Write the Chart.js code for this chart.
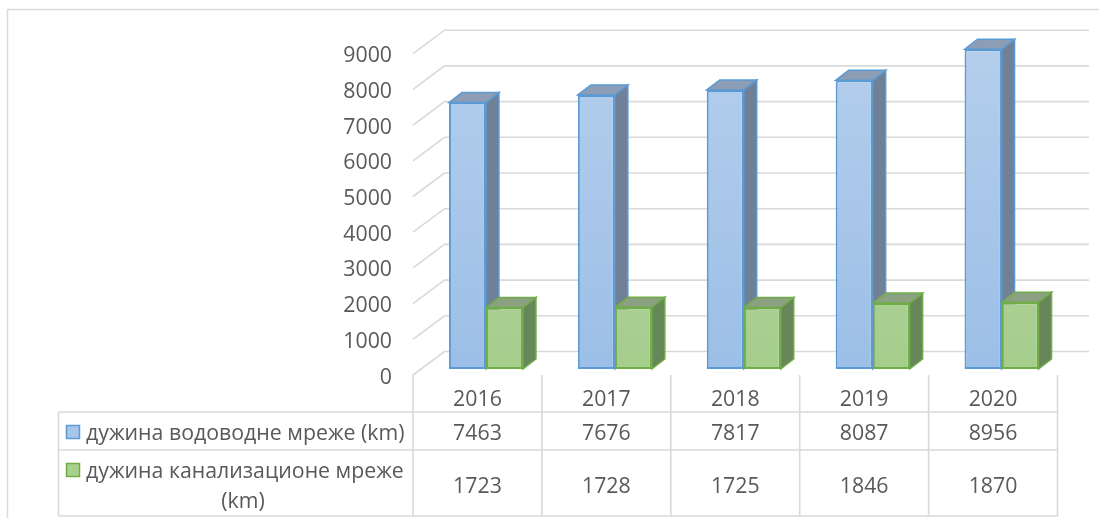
<!DOCTYPE html>
<html>
<head>
<meta charset="utf-8">
<script src="https://cdn.jsdelivr.net/npm/chart.js@4.4.1/dist/chart.umd.min.js"></script>
<style>
  html, body { margin: 0; padding: 0; background: #fff; }
  #wrap { width: 1099px; height: 518px; }
</style>
</head>
<body>
<div id="wrap"><canvas id="chart" width="1099" height="518"></canvas></div>
<script>
// --- datos del gráfico ---
const years = ['2016', '2017', '2018', '2019', '2020'];
const waterNet = [7463, 7676, 7817, 8087, 8956];
const sewerNet = [1723, 1728, 1725, 1846, 1870];
const seriesNames = ['дужина водоводне мреже (km)', 'дужина канализационе мреже (km)'];
const yTicks = [0, 1000, 2000, 3000, 4000, 5000, 6000, 7000, 8000, 9000];

const FONT = '21.3px "Open Sans", sans-serif';
const TEXT = '#595959';
const GRID = '#D9D9D9';
const TXT_DY = 2.5; // Open Sans queda un poco alta con baseline 'middle'

// colores de cada serie (frente, lado, tapa, borde)
const looks = [
    { top: '#B4CEEC', bottom: '#9CBFE7', side: '#6F8097', cap: '#8C9DB5', line: '#5B9BD5', key: '#A8C5E9' },
    { top: '#BADAA9', bottom: '#A5CD8C', side: '#67865A', cap: '#8BA181', line: '#70AD47', key: '#A9D18E' }
];

// profundidad del "3D"
const SHIFT = 8.5;           // frente de las barras respecto al borde del suelo
const DEPTH_X = 31.5, DEPTH_Y = -23.5;  // pared del fondo
const BAR_DX = 13, BAR_DY = -10;        // grosor de la barra

function poly(ctx, pts, fill, stroke) {
    ctx.beginPath();
    ctx.moveTo(pts[0][0], pts[0][1]);
    for (let i = 1; i < pts.length; i++) ctx.lineTo(pts[i][0], pts[i][1]);
    ctx.closePath();
    ctx.fillStyle = fill;
    ctx.fill();
    ctx.lineWidth = 1.5;
    ctx.strokeStyle = stroke;
    ctx.stroke();
}

const threeD = {
    id: 'threeD',
    beforeDatasetsDraw(chart) {
        const ctx = chart.ctx;
        const x = chart.scales.x, y = chart.scales.y;
        const frontX = x.left - SHIFT;
        ctx.save();

        // marco exterior
        ctx.strokeStyle = GRID;
        ctx.lineWidth = 1.5;
        ctx.beginPath();
        ctx.moveTo(7.5, 518);
        ctx.lineTo(7.5, 9.5);
        ctx.lineTo(1099, 9.5);
        ctx.stroke();

        // paredes: lateral (diagonal) y fondo (horizontal)
        ctx.lineWidth = 1.6;
        yTicks.forEach(v => {
            const yf = y.getPixelForValue(v) + 6;
            ctx.beginPath();
            ctx.moveTo(frontX, yf);
            ctx.lineTo(frontX + DEPTH_X, yf + DEPTH_Y);
            ctx.lineTo(x.right + 23, yf + DEPTH_Y);
            ctx.stroke();
        });

        // lados y tapas de las barras
        years.forEach((_, i) => {
            chart.data.datasets.forEach((ds, d) => {
                const bar = chart.getDatasetMeta(d).data[i];
                const p = bar.getProps(['x', 'y', 'base', 'width'], true);
                const l = p.x - p.width / 2, r = p.x + p.width / 2;
                const lk = looks[d];
                poly(ctx, [[r, p.y], [r + BAR_DX, p.y + BAR_DY], [r + BAR_DX, p.base + BAR_DY], [r, p.base]], lk.side, lk.line);
                poly(ctx, [[l, p.y], [l + BAR_DX, p.y + BAR_DY], [r + BAR_DX, p.y + BAR_DY], [r, p.y]], lk.cap, lk.line);
            });
        });
        ctx.restore();
    },
    afterDraw(chart) {
        const ctx = chart.ctx;
        const x = chart.scales.x, y = chart.scales.y;
        const frontX = x.left - SHIFT;
        const colW = (x.right - x.left) / years.length;
        ctx.save();
        ctx.font = FONT;
        ctx.fillStyle = TEXT;

        // etiquetas del eje Y
        ctx.textAlign = 'right';
        ctx.textBaseline = 'middle';
        yTicks.forEach(v => ctx.fillText(String(v), 392, y.getPixelForValue(v) + 6 + TXT_DY));

        // tabla de datos
        const rowTop = 412, rowMid = 450, rowBot = 516, hdrTop = 375, keyLeft = 58.5;
        ctx.strokeStyle = GRID;
        ctx.lineWidth = 1.6;
        ctx.beginPath();
        [rowTop, rowMid, rowBot].forEach(ry => {
            ctx.moveTo(keyLeft, ry);
            ctx.lineTo(frontX + colW * years.length, ry);
        });
        ctx.moveTo(keyLeft, rowTop);
        ctx.lineTo(keyLeft, rowBot);
        for (let i = 0; i <= years.length; i++) {
            const cx = frontX + colW * i;
            ctx.moveTo(cx, hdrTop);
            ctx.lineTo(cx, rowBot);
        }
        ctx.stroke();

        ctx.textAlign = 'center';
        years.forEach((yr, i) => {
            const cx = x.getPixelForValue(i) - SHIFT;
            ctx.fillText(yr, cx, 397 + TXT_DY);
            ctx.fillText(String(waterNet[i]), cx, 431 + TXT_DY);
            ctx.fillText(String(sewerNet[i]), cx, 484 + TXT_DY);
        });

        // leyenda dentro de la tabla
        const keys = [425, 463];
        keys.forEach((sy, d) => {
            ctx.fillStyle = looks[d].key;
            ctx.fillRect(66.5, sy + 0.5, 13, 13);
            ctx.strokeStyle = looks[d].line;
            ctx.lineWidth = 1.5;
            ctx.strokeRect(66.5, sy + 0.5, 13, 13);
        });
        ctx.fillStyle = TEXT;
        ctx.textAlign = 'left';
        ctx.fillText(seriesNames[0], 86, 431 + TXT_DY);
        ctx.fillText('дужина канализационе мреже', 86, 469 + TXT_DY);
        ctx.textAlign = 'center';
        ctx.fillText('(km)', 243, 499 + TXT_DY);
        ctx.restore();
    }
};

const canvas = document.getElementById('chart');
const ctx0 = canvas.getContext('2d');

function frontFill(d) {
    return (c) => {
        const area = c.chart.chartArea;
        if (!area) return looks[d].bottom;
        const g = c.chart.ctx.createLinearGradient(0, area.top, 0, area.bottom);
        g.addColorStop(0, looks[d].top);
        g.addColorStop(1, looks[d].bottom);
        return g;
    };
}

new Chart(ctx0, {
    type: 'bar',
    data: {
        labels: years,
        datasets: [
            { label: seriesNames[0], data: waterNet, backgroundColor: frontFill(0), borderColor: looks[0].line, borderWidth: 2, borderSkipped: false },
            { label: seriesNames[1], data: sewerNet, backgroundColor: frontFill(1), borderColor: looks[1].line, borderWidth: 2, borderSkipped: false }
        ]
    },
    options: {
        responsive: false,
        animation: false,
        devicePixelRatio: 1,
        layout: { padding: { left: 421.5, right: 33, top: 47.7, bottom: 149 } },
        datasets: { bar: { categoryPercentage: 0.574, barPercentage: 1.0 } },
        scales: {
            x: { display: false },
            y: { display: false, min: 0, max: 9000 }
        },
        plugins: { legend: { display: false }, tooltip: { enabled: false }, title: { display: false } }
    },
    plugins: [threeD]
});
</script>
</body>
</html>
